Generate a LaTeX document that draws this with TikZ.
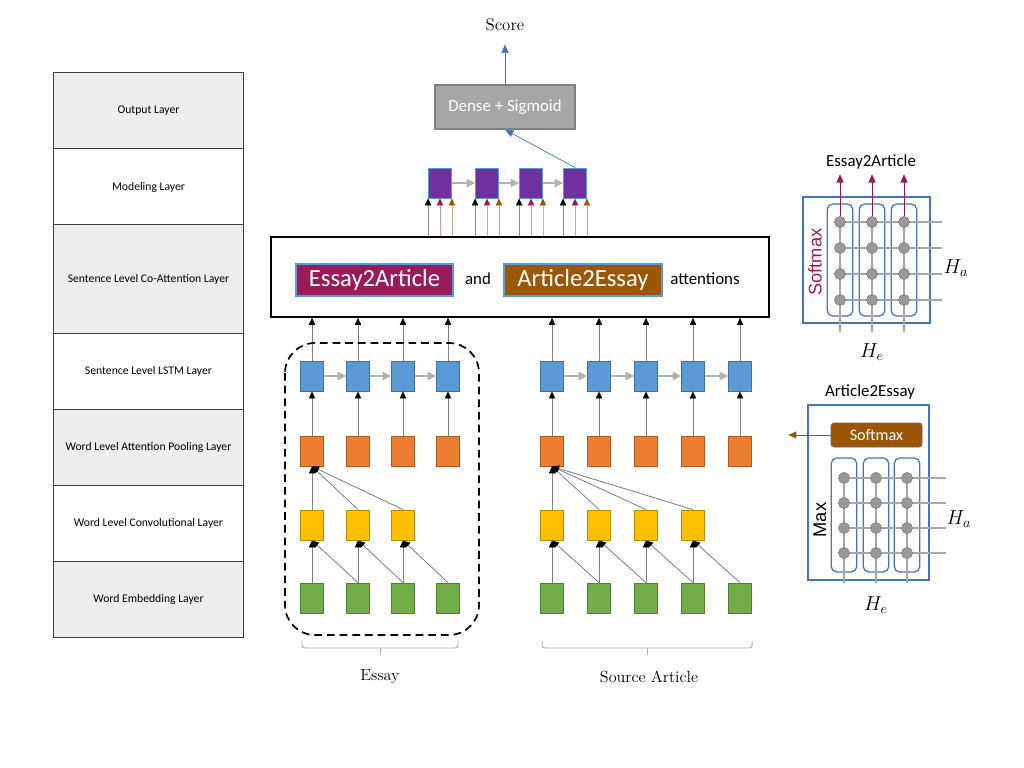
\documentclass[tikz,border=0pt]{standalone}
\usepackage{fontspec}
\usepackage{tikz}
\usetikzlibrary{arrows.meta,positioning,calc}
\newfontfamily\calibri{Carlito}
\newfontfamily\arialfont{Liberation Sans}
\definecolor{lstmblue}{RGB}{91,155,213}
\definecolor{lstmedge}{RGB}{65,113,156}
\definecolor{poolorange}{RGB}{237,125,49}
\definecolor{pooledge}{RGB}{174,90,33}
\definecolor{convyellow}{RGB}{255,192,0}
\definecolor{convedge}{RGB}{188,140,0}
\definecolor{embgreen}{RGB}{112,173,71}
\definecolor{embedge}{RGB}{80,126,50}
\definecolor{modpurple}{RGB}{112,48,160}
\definecolor{eamaroon}{RGB}{155,27,90}
\definecolor{aebrown}{RGB}{156,87,6}
\definecolor{layergray}{RGB}{237,237,237}
\definecolor{panelblue}{RGB}{68,114,196}
\definecolor{bracegray}{RGB}{160,176,210}

\begin{document}
\begin{tikzpicture}[
    x=0.025cm,y=-0.025cm,
    layer/.style={draw=black!75,line width=0.7pt,minimum width=4.725cm,minimum height=1.9cm,font=\calibri\fontsize{8.3}{10}\selectfont},
    cell/.style={draw,line width=0.6pt,minimum width=0.575cm,minimum height=0.75cm,inner sep=0pt},
    lstm/.style={cell,fill=lstmblue,draw=lstmedge},
    pool/.style={cell,fill=poolorange,draw=pooledge},
    conv/.style={cell,fill=convyellow,draw=convedge},
    emb/.style={cell,fill=embgreen,draw=embedge},
    modbox/.style={cell,fill=modpurple,draw=lstmblue},
    tipk/.style={-{Triangle[length=5pt,width=4.5pt,black]}},
    link/.style={draw=black!50,line width=0.6pt,tipk},
    recur/.style={draw=black!30,line width=1.2pt,-{Triangle[length=6pt,width=6pt]}},
    feedk/.style={draw=black!45,line width=0.6pt,tipk},
    feedm/.style={draw=eamaroon!45,line width=0.6pt,-{Triangle[length=5pt,width=4.5pt,eamaroon]}},
    feedb/.style={draw=aebrown!45,line width=0.6pt,-{Triangle[length=5pt,width=4.5pt,aebrown]}},
    outarrow/.style={draw=panelblue,line width=0.5pt,-{Triangle[length=6pt,width=5pt]}},
    gridline/.style={draw=black!35,line width=1.3pt},
    dot/.style={circle,fill=black!40,draw=black!50,line width=0.4pt,minimum size=0.28cm,inner sep=0pt},
    colbox/.style={draw=panelblue,rounded corners=4pt,line width=0.9pt,minimum width=0.64cm,inner sep=0pt},
    tag/.style={font=\calibri\fontsize{12}{14}\selectfont},
    attname/.style={draw=lstmblue,line width=0.8pt,minimum height=0.8cm,inner sep=1pt,text=white,font=\calibri\fontsize{17.5}{20}\selectfont},
    brace/.style={draw=bracegray,line width=0.7pt,rounded corners=2pt}
]
\useasboundingbox (0,0) rectangle (1024,768);

% layer names
\node[layer,fill=layergray] (out) at (148.5,111) {Output Layer};
\node[layer,fill=white] (model) at (148.5,187) {Modeling Layer};
\node[layer,fill=layergray,minimum height=2.7cm] (coatt) at (148.5,279) {Sentence Level Co-Attention Layer};
\node[layer,fill=white] (sentlstm) at (148.5,371) {Sentence Level LSTM Layer};
\node[layer,fill=layergray] (attpool) at (148.5,447) {Word Level Attention Pooling Layer};
\node[layer,fill=white] (wordconv) at (148.5,523) {Word Level Convolutional Layer};
\node[layer,fill=layergray] (wordemb) at (148.5,599) {Word Embedding Layer};

% co-attention
\node[draw,line width=1.2pt,minimum width=12.45cm,minimum height=2cm] (attbox) at (520,277) {};
\node[attname,fill=eamaroon,minimum width=3.925cm] (e2a) at (374.5,280) {Essay2Article};
\node[tag] (and) at (478,279) {and};
\node[attname,fill=aebrown,minimum width=3.95cm] (a2e) at (583,280) {Article2Essay};
\node[tag] (attn) at (705,279) {attentions};

% essay side
\foreach \i/\x in {1/312,2/358,3/403,4/448} {
  \node[lstm] (lstmE\i) at (\x,376) {};
  \node[pool] (poolE\i) at (\x,451) {};
  \node[emb] (embE\i) at (\x,598) {};
}
\foreach \i/\x in {1/312,2/358,3/403} \node[conv] (convE\i) at (\x,525) {};
\foreach \i in {1,...,4} {
  \draw[link] (poolE\i) -- (lstmE\i);
  \draw[link] (lstmE\i) -- (lstmE\i |- attbox.south);
}
\foreach \i/\j in {1/2,2/3,3/4} {
  \draw[recur] (lstmE\i) -- (lstmE\j);
  \draw[link] (embE\i) -- (convE\i);
  \draw[link] (embE\j.north) -- (convE\i.south);
  \draw[link] (convE\i.north) -- (poolE1.south);
}
\draw[dashed,line width=1.2pt,dash pattern=on 5.5pt off 3.5pt,rounded corners=0.75cm] (285,343) rectangle (479,635);

% source article side
\foreach \i/\x in {1/552,2/599,3/646,4/693,5/740} {
  \node[lstm] (lstmA\i) at (\x,376) {};
  \node[pool] (poolA\i) at (\x,451) {};
  \node[emb] (embA\i) at (\x,598) {};
}
\foreach \i/\x in {1/552,2/599,3/646,4/693} \node[conv] (convA\i) at (\x,525) {};
\foreach \i in {1,...,5} {
  \draw[link] (poolA\i) -- (lstmA\i);
  \draw[link] (lstmA\i) -- (lstmA\i |- attbox.south);
}
\foreach \i/\j in {1/2,2/3,3/4,4/5} {
  \draw[recur] (lstmA\i) -- (lstmA\j);
  \draw[link] (embA\i) -- (convA\i);
  \draw[link] (embA\j.north) -- (convA\i.south);
  \draw[link] (convA\i.north) -- (poolA1.south);
}

% braces
\node[font=\fontsize{11.5}{13}\selectfont] (essay) at (380,677) {Essay};
\node[font=\fontsize{11.5}{13}\selectfont] (source) at (649,677) {Source Article};
\draw[brace] (302,641) -- (302,648) -- (458,648) -- (458,641);
\draw[brace] (380,648) -- (380,655);
\draw[brace] (542,641) -- (542,648) -- (752,648) -- (752,641);
\draw[brace] (647,648) -- (647,655);

% modeling and output
\foreach \i/\x in {1/440,2/487,3/531,4/575} {
  \node[modbox] (mod\i) at (\x,183) {};
  \draw[feedk] (mod\i.south west |- attbox.north) -- (mod\i.south west);
  \draw[feedm] (mod\i.south |- attbox.north) -- (mod\i.south);
  \draw[feedb] (mod\i.south east |- attbox.north) -- (mod\i.south east);
}
\draw[recur] (mod1) -- (mod2);
\draw[recur] (mod2) -- (mod3);
\draw[recur] (mod3) -- (mod4);
\node[draw=black!50,fill=black!35,line width=0.8pt,minimum width=3.5cm,minimum height=1.1cm,text=white,font=\calibri\fontsize{12}{14}\selectfont] (dense) at (505,107) {Dense + Sigmoid};
\node[font=\fontsize{12}{14}\selectfont] (score) at (505,25) {Score};
\draw[outarrow] (mod4.north) -- (dense.south);
\draw[outarrow,shorten >=6pt] (dense) -- (score);

% Essay2Article panel
\node[tag] (e2atitle) at (871,162) {Essay2Article};
\node[draw=panelblue,line width=0.9pt,minimum width=3.175cm,minimum height=3.15cm] (e2apanel) at (866.5,260) {};
\foreach \c/\x in {1/840,2/872,3/904} {
  \node[colbox,minimum height=2.8cm] (ecol\c) at (\x,260) {};
  \draw[gridline] (\x,222) -- (\x,332);
}
\foreach \y in {222,248,274,300} \draw[gridline] (840,\y) -- (942,\y);
\foreach \c/\x in {1/840,2/872,3/904} {
  \foreach \r/\y in {1/222,2/248,3/274,4/300} \node[dot] (edot\c\r) at (\x,\y) {};
  \draw[draw=eamaroon,line width=0.6pt,-{Triangle[length=6pt,width=5pt]}] (edot\c1.north) -- (edot\c1 |- e2atitle.south);
}
\node[rotate=90,text=eamaroon,font=\arialfont\fontsize{13}{15}\selectfont] (e2asoft) at (815,262) {Softmax};
\node[font=\fontsize{14}{16}\selectfont] (e2aha) at (956,268) {$H_a$};
\node[font=\fontsize{14}{16}\selectfont] (e2ahe) at (872,352) {$H_e$};

% Article2Essay panel
\node[tag] (a2etitle) at (870,392) {Article2Essay};
\node[draw=panelblue,line width=0.9pt,minimum width=3.025cm,minimum height=4.375cm] (a2epanel) at (868.5,492.5) {};
\node[fill=aebrown,draw=black!60,rounded corners=2pt,minimum width=2.275cm,minimum height=0.6cm,text=white,font=\calibri\fontsize{11.5}{13}\selectfont] (a2esoft) at (876.5,435) {Softmax};
\coordinate (a2etip) at (788,435);
\draw[draw=aebrown,line width=0.7pt,-{Triangle[length=6pt,width=5pt]}] (a2esoft.west) -- (a2etip);
\foreach \c/\x in {1/844,2/876,3/907} {
  \node[colbox,minimum height=2.85cm] (acol\c) at (\x,515) {};
  \draw[gridline] (\x,478) -- (\x,583);
}
\foreach \y in {478,503,528,553} \draw[gridline] (844,\y) -- (946,\y);
\foreach \c/\x in {1/844,2/876,3/907}
  \foreach \r/\y in {1/478,2/503,3/528,4/553} \node[dot] (adot\c\r) at (\x,\y) {};
\node[rotate=90,font=\arialfont\fontsize{13}{15}\selectfont] (a2emax) at (820,520) {Max};
\node[font=\fontsize{14}{16}\selectfont] (a2eha) at (959,519) {$H_a$};
\node[font=\fontsize{14}{16}\selectfont] (a2ehe) at (876,605) {$H_e$};
\end{tikzpicture}
\end{document}
